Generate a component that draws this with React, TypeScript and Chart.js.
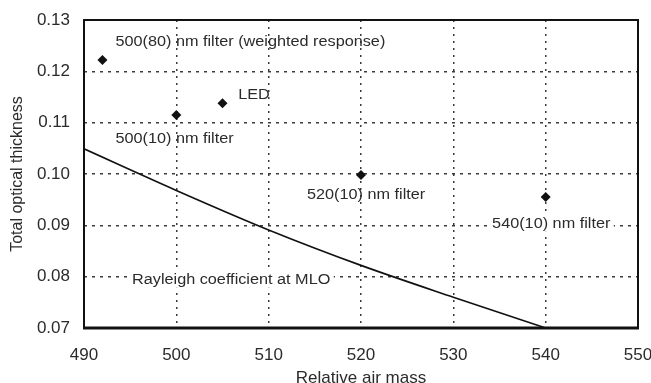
import React, { useEffect, useRef } from "react";
import { Chart, registerables } from "chart.js";

Chart.register(...registerables);

// Measured points (relative air mass, total optical thickness)
const pointX = [492, 500, 505, 520, 540];
const pointY = [0.1222, 0.1115, 0.1138, 0.0998, 0.0955];

// Rayleigh coefficient curve
const rayleighX = [490, 500, 510, 520, 530, 540];
const rayleighY = [0.1049, 0.0968, 0.0891, 0.0822, 0.0760, 0.0700];

// Axis ticks
const xTicks = [490, 500, 510, 520, 530, 540, 550];
const yTicks = [0.07, 0.08, 0.09, 0.1, 0.11, 0.12, 0.13];

// Text annotations (anchored in data coordinates)
const labelTexts = [
  "500(80) nm filter (weighted response)",
  "LED",
  "500(10) nm filter",
  "520(10) nm filter",
  "540(10) nm filter",
  "Rayleigh coefficient at MLO",
];
const labelX = [493.4, 506.7, 493.4, 514.15, 534.2, 495.2];
const labelY = [0.1257, 0.1154, 0.1068, 0.0959, 0.0903, 0.0794];
const labelBg = [false, false, false, false, true, true];

const FONT = '"Liberation Sans", Arial, Helvetica, sans-serif';
const TEXT = "#2b2b2b";

const framePlugin = {
  id: "frame",
  afterDatasetsDraw(chart: any) {
    const { ctx, chartArea: a, scales } = chart;
    ctx.save();
    ctx.strokeStyle = "#111";
    ctx.lineWidth = 2;
    ctx.strokeRect(a.left, a.top, a.right - a.left, a.bottom - a.top);
    ctx.lineWidth = 3;
    ctx.beginPath();
    ctx.moveTo(a.left - 1, a.bottom);
    ctx.lineTo(a.right + 1, a.bottom);
    ctx.stroke();
    ctx.restore();

    const x = scales.x;
    const y = scales.y;
    ctx.save();
    ctx.font = "14px " + FONT;
    ctx.textBaseline = "middle";
    ctx.textAlign = "left";
    labelTexts.forEach((t, i) => {
      const px = x.getPixelForValue(labelX[i]);
      const py = y.getPixelForValue(labelY[i]);
      ctx.save();
      ctx.translate(px, py);
      ctx.scale(1.16, 1);
      const w = ctx.measureText(t).width;
      if (labelBg[i]) {
        ctx.fillStyle = "#ffffff";
        ctx.fillRect(-3, -8, w + 6, 16);
      }
      ctx.fillStyle = TEXT;
      ctx.fillText(t, 0, 0);
      ctx.restore();
    });
    ctx.restore();
  },
};

export default function App() {
  const ref = useRef<HTMLCanvasElement | null>(null);

  useEffect(() => {
    document.body.style.margin = "0";
    if (!ref.current) return;
    const chart = new Chart(ref.current, {
      type: "scatter",
      data: {
        datasets: [
          {
            label: "Rayleigh",
            data: rayleighX.map((v, i) => ({ x: v, y: rayleighY[i] })),
            showLine: true,
            borderColor: "#111",
            borderWidth: 1.6,
            pointRadius: 0,
            cubicInterpolationMode: "monotone",
            fill: false,
          },
          {
            label: "Filters",
            data: pointX.map((v, i) => ({ x: v, y: pointY[i] })),
            showLine: false,
            pointStyle: "rectRot",
            pointRadius: 5,
            backgroundColor: "#111",
            borderColor: "#111",
            borderWidth: 0,
          },
        ],
      },
      plugins: [framePlugin],
      options: {
        responsive: false,
        animation: false,
        layout: { padding: { top: 20, right: 13, left: 0, bottom: 0 } },
        plugins: {
          legend: { display: false },
          tooltip: { enabled: false },
        },
        scales: {
          x: {
            type: "linear",
            min: 490,
            max: 550,
            afterBuildTicks: (s: any) => {
              s.ticks = xTicks.map((v) => ({ value: v }));
            },
            afterFit: (s: any) => {
              s.height = 55;
              s.paddingLeft = 0;
              s.paddingRight = 0;
            },
            ticks: {
              padding: 17,
              color: TEXT,
              maxRotation: 0,
              font: { family: FONT, size: 17 },
              callback: (v: any) => String(v),
            },
            grid: {
              color: "#3a3a3a",
              lineWidth: 1.5,
              drawTicks: false,
            },
            border: { display: false, dash: [2, 5] },
            title: {
              display: true,
              text: "Relative air mass",
              color: TEXT,
              font: { family: FONT, size: 17 },
              padding: { top: 0, bottom: -5.5 },
            },
          },
          y: {
            type: "linear",
            min: 0.07,
            max: 0.13,
            afterBuildTicks: (s: any) => {
              s.ticks = yTicks.map((v) => ({ value: v }));
            },
            afterFit: (s: any) => {
              s.width = 84;
              s.paddingTop = 0;
              s.paddingBottom = 0;
            },
            ticks: {
              padding: 14,
              color: TEXT,
              font: { family: FONT, size: 17 },
              callback: (v: any) => Number(v).toFixed(2),
            },
            grid: {
              color: "#3a3a3a",
              lineWidth: 1.5,
              drawTicks: false,
            },
            border: { display: false, dash: [3, 5] },
            title: {
              display: true,
              text: "Total optical thickness",
              color: TEXT,
              font: { family: FONT, size: 16 },
              padding: { top: 8, bottom: 0 },
            },
          },
        },
      },
    } as any);
    return () => chart.destroy();
  }, []);

  return (
    <div style={{ position: "absolute", left: 0, top: 0, width: 651, height: 383, background: "#fff" }}>
      <canvas ref={ref} width={651} height={383} />
    </div>
  );
}
